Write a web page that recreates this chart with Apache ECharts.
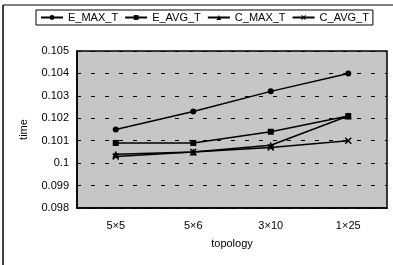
<!DOCTYPE html>
<html>
<head>
<meta charset="utf-8">
<script src="https://cdn.jsdelivr.net/npm/echarts@6/dist/echarts.min.js"></script>
<style>
html,body{margin:0;padding:0;background:#fff;}
#chart{width:393px;height:265px;}
</style>
</head>
<body>
<div id="chart"></div>
<script>
// 拓扑类型
var topology = ['5×5', '5×6', '3×10', '1×25'];
// 各序列数据
var eMaxT = [0.1015, 0.1023, 0.1032, 0.1040];
var eAvgT = [0.1009, 0.1009, 0.1014, 0.1021];
var cMaxT = [0.1004, 0.1005, 0.1008, 0.1021];
var cAvgT = [0.1003, 0.1005, 0.1007, 0.1010];
var seriesNames = ['E_MAX_T', 'E_AVG_T', 'C_MAX_T', 'C_AVG_T'];
// 叉号标记（填充的多边形）
var crossPath = 'path://M0,1.5 L1.5,0 L5,3.5 L8.5,0 L10,1.5 L6.5,5 L10,8.5 L8.5,10 L5,6.5 L1.5,10 L0,8.5 L3.5,5 Z';
var symbols = ['circle', 'rect', 'triangle', crossPath];

var myChart = echarts.init(document.getElementById('chart'));
var font = 'Liberation Sans, Arial, sans-serif';

function makeSeries(name, data, sym) {
	return {
		name: name,
		type: 'line',
		data: data,
		symbol: sym,
		symbolSize: sym === 'triangle' ? 7 : (sym === crossPath ? 7 : 6),
		lineStyle: { color: '#000', width: 1.5 },
		itemStyle: { color: '#000' },
		emphasis: { disabled: true },
		animation: false
	};
}

var option = {
	backgroundColor: '#fff',
	animation: false,
	textStyle: { fontFamily: font },
	color: ['#000', '#000', '#000', '#000'],
	legend: {
		data: seriesNames,
		top: 10,
		left: 36,
		itemGap: 6,
		itemWidth: 22,
		itemHeight: 6,
		padding: [2, 4, 2, 4],
		borderColor: '#000',
		borderWidth: 1,
		textStyle: { color: '#000', fontSize: 11, fontFamily: font }
	},
	grid: {
		left: 77,
		right: 6,
		top: 51,
		bottom: 57,
		show: true,
		backgroundColor: '#c6c6c6',
		borderColor: '#000',
		borderWidth: 1.5
	},
	xAxis: {
		type: 'category',
		data: topology,
		boundaryGap: true,
		name: 'topology',
		nameLocation: 'middle',
		nameGap: 30,
		nameTextStyle: { color: '#000', fontSize: 11, fontFamily: font },
		axisLine: { lineStyle: { color: '#000', width: 1.5 } },
		axisTick: { inside: true, length: 3, lineStyle: { color: '#000' } },
		axisLabel: { color: '#000', fontSize: 11, margin: 12, fontFamily: font }
	},
	yAxis: {
		type: 'value',
		min: 0.098,
		max: 0.105,
		interval: 0.001,
		name: 'time',
		nameLocation: 'middle',
		nameGap: 48,
		nameTextStyle: { color: '#000', fontSize: 11, fontFamily: font },
		axisLine: { show: true, lineStyle: { color: '#000', width: 1.5 } },
		axisTick: { show: false },
		axisLabel: {
			color: '#000',
			fontSize: 11,
			margin: 8,
			fontFamily: font,
			formatter: function (v) { return String(parseFloat(v.toFixed(3))); }
		},
		splitLine: { show: true, lineStyle: { color: '#000', type: [4, 10], width: 1 } }
	},
	series: [
		makeSeries(seriesNames[0], eMaxT, symbols[0]),
		makeSeries(seriesNames[1], eAvgT, symbols[1]),
		makeSeries(seriesNames[2], cMaxT, symbols[2]),
		makeSeries(seriesNames[3], cAvgT, symbols[3])
	],
	graphic: [
		// 外框（左、上）
		{ type: 'line', shape: { x1: 3, y1: 5, x2: 3, y2: 265 }, style: { stroke: '#000', lineWidth: 1.5 } },
		{ type: 'line', shape: { x1: 3, y1: 5, x2: 393, y2: 5 }, style: { stroke: '#000', lineWidth: 1 } }
	]
};
myChart.setOption(option);
</script>
</body>
</html>
